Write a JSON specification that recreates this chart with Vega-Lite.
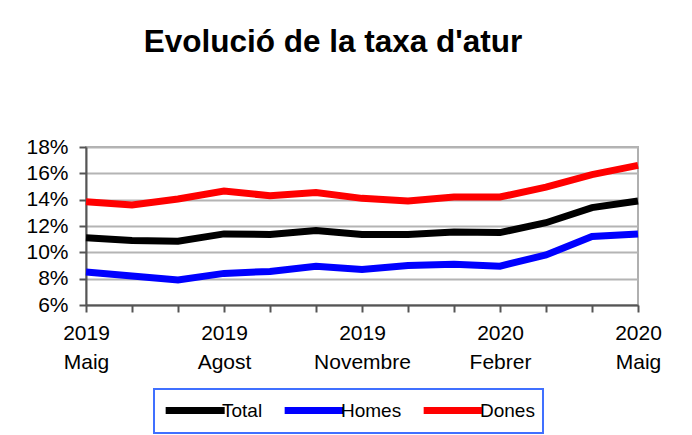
{
  "$schema": "https://vega.github.io/schema/vega-lite/v6.json",
  "width": 552,
  "height": 158,
  "autosize": {"type": "none"},
  "padding": {"left": 86, "top": 147, "right": 54, "bottom": 130},
  "background": "white",
  "title": {
    "text": "Evolució de la taxa d'atur",
    "font": "Liberation Sans",
    "fontSize": 31.5,
    "fontWeight": "bold",
    "color": "black",
    "anchor": "middle",
    "frame": "group",
    "dx": -29,
    "offset": 53,
    "baseline": "alphabetic"
  },
  "config": {
    "view": {"stroke": "#b0b0b0", "strokeWidth": 2},
    "axis": {"labelFont": "Liberation Sans", "labelFontSize": 21, "labelColor": "black"}
  },
  "data": {
    "values": [
      {"mes": "2019|Maig", "serie": "Total", "taxa": 0.111},
      {"mes": "2019|Juny", "serie": "Total", "taxa": 0.109},
      {"mes": "2019|Juliol", "serie": "Total", "taxa": 0.1085},
      {"mes": "2019|Agost", "serie": "Total", "taxa": 0.114},
      {"mes": "2019|Setembre", "serie": "Total", "taxa": 0.1135},
      {"mes": "2019|Octubre", "serie": "Total", "taxa": 0.1165},
      {"mes": "2019|Novembre", "serie": "Total", "taxa": 0.1135},
      {"mes": "2019|Desembre", "serie": "Total", "taxa": 0.1135},
      {"mes": "2020|Gener", "serie": "Total", "taxa": 0.1155},
      {"mes": "2020|Febrer", "serie": "Total", "taxa": 0.115},
      {"mes": "2020|Març", "serie": "Total", "taxa": 0.1225},
      {"mes": "2020|Abril", "serie": "Total", "taxa": 0.134},
      {"mes": "2020|Maig", "serie": "Total", "taxa": 0.139},
      {"mes": "2019|Maig", "serie": "Homes", "taxa": 0.085},
      {"mes": "2019|Juny", "serie": "Homes", "taxa": 0.082},
      {"mes": "2019|Juliol", "serie": "Homes", "taxa": 0.079},
      {"mes": "2019|Agost", "serie": "Homes", "taxa": 0.084},
      {"mes": "2019|Setembre", "serie": "Homes", "taxa": 0.0855},
      {"mes": "2019|Octubre", "serie": "Homes", "taxa": 0.0895},
      {"mes": "2019|Novembre", "serie": "Homes", "taxa": 0.087},
      {"mes": "2019|Desembre", "serie": "Homes", "taxa": 0.09},
      {"mes": "2020|Gener", "serie": "Homes", "taxa": 0.091},
      {"mes": "2020|Febrer", "serie": "Homes", "taxa": 0.0895},
      {"mes": "2020|Març", "serie": "Homes", "taxa": 0.098},
      {"mes": "2020|Abril", "serie": "Homes", "taxa": 0.112},
      {"mes": "2020|Maig", "serie": "Homes", "taxa": 0.114},
      {"mes": "2019|Maig", "serie": "Dones", "taxa": 0.1385},
      {"mes": "2019|Juny", "serie": "Dones", "taxa": 0.136},
      {"mes": "2019|Juliol", "serie": "Dones", "taxa": 0.1405},
      {"mes": "2019|Agost", "serie": "Dones", "taxa": 0.1465},
      {"mes": "2019|Setembre", "serie": "Dones", "taxa": 0.143},
      {"mes": "2019|Octubre", "serie": "Dones", "taxa": 0.1455},
      {"mes": "2019|Novembre", "serie": "Dones", "taxa": 0.141},
      {"mes": "2019|Desembre", "serie": "Dones", "taxa": 0.139},
      {"mes": "2020|Gener", "serie": "Dones", "taxa": 0.142},
      {"mes": "2020|Febrer", "serie": "Dones", "taxa": 0.142},
      {"mes": "2020|Març", "serie": "Dones", "taxa": 0.1495},
      {"mes": "2020|Abril", "serie": "Dones", "taxa": 0.159},
      {"mes": "2020|Maig", "serie": "Dones", "taxa": 0.166}
    ]
  },
  "mark": {"type": "line", "strokeWidth": 7},
  "encoding": {
    "x": {
      "field": "mes",
      "type": "ordinal",
      "sort": null,
      "scale": {"type": "point", "padding": 0},
      "axis": {
        "title": null,
        "labelAngle": 0,
        "grid": false,
        "tickSize": 7,
        "tickWidth": 2,
        "tickColor": "#555555",
        "domainColor": "#555555",
        "domainWidth": 2,
        "labelPadding": 10,
        "labelLineHeight": 29,
        "labelOverlap": false,
        "labelBound": false,
        "labelExpr": "indexof(['Maig','Agost','Novembre','Febrer'], split(datum.value,'|')[1]) >= 0 ? split(datum.value,'|') : ''"
      }
    },
    "y": {
      "field": "taxa",
      "type": "quantitative",
      "scale": {"domain": [0.06, 0.18], "nice": false, "zero": false},
      "axis": {
        "title": null,
        "format": ".0%",
        "values": [0.06, 0.08, 0.1, 0.12, 0.14, 0.16, 0.18],
        "tickSize": 7,
        "tickWidth": 2,
        "tickColor": "#555555",
        "domainColor": "#555555",
        "domainWidth": 2,
        "labelPadding": 11,
        "gridColor": "#b4b4b4",
        "gridWidth": 2
      }
    },
    "color": {
      "field": "serie",
      "type": "nominal",
      "sort": ["Total", "Homes", "Dones"],
      "scale": {"domain": ["Total", "Homes", "Dones"], "range": ["#000000", "#0000ff", "#ff0000"]},
      "legend": {
        "title": null,
        "orient": "none",
        "legendX": 68,
        "legendY": 242,
        "direction": "horizontal",
        "gridAlign": "none",
        "strokeColor": "#4070ff",
        "fillColor": "white",
        "padding": 8,
        "symbolType": "M-1,0H5",
        "symbolSize": 387,
        "symbolStrokeWidth": 7,
        "labelFont": "Liberation Sans",
        "labelFontSize": 19,
        "labelColor": "black",
        "labelOffset": 33,
        "columnPadding": 7,
        "encode": {"legend": {"update": {"strokeWidth": {"value": 2}}}}
      }
    }
  }
}
